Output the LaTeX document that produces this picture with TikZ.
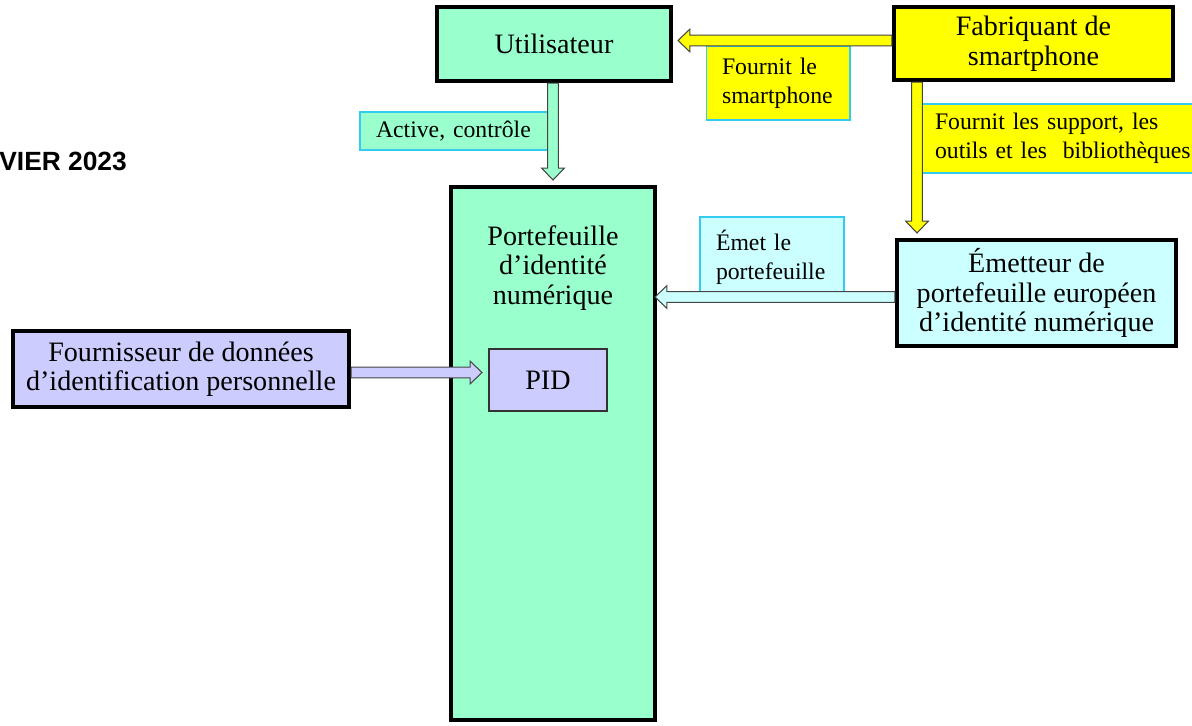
\documentclass[tikz,border=0pt]{standalone}
\usepackage{fontspec}
\setmainfont{Liberation Serif}
\newfontfamily\headfont{Liberation Sans}
\usetikzlibrary{calc}

\definecolor{mint}{HTML}{99FFCC}
\definecolor{lavender}{HTML}{CCCCFF}
\definecolor{paleaqua}{HTML}{CCFFFF}
\definecolor{sunyellow}{HTML}{FFFF00}
\definecolor{tagedge}{HTML}{33CCEE}
\definecolor{arrowedge}{HTML}{444444}

\tikzset{
  actor/.style={draw=black, line width=2.4pt, align=center, inner sep=0pt,
    font=\fontsize{16}{16.8}\selectfont},
  tag/.style={draw=tagedge, line width=0.6pt, align=left, inner sep=0pt,
    font=\fontsize{13.5}{16.4}\selectfont},
  arrowline/.style={draw=arrowedge, line width=0.6pt},
}

% block arrow: fill, tail, tip
\newcommand{\blockarrow}[3]{%
  \coordinate (ba-m) at ($(#3)!6.8pt!(#2)$);
  \draw[arrowline, fill=#1]
    ($(#2)!3.1pt!90:(#3)$) -- ($(ba-m)!3.1pt!90:(#3)$) -- ($(ba-m)!6.5pt!90:(#3)$)
    -- (#3) -- ($(ba-m)!6.5pt!-90:(#3)$) -- ($(ba-m)!3.1pt!-90:(#3)$)
    -- ($(#2)!3.1pt!-90:(#3)$) -- cycle;
}

\begin{document}
\begin{tikzpicture}[x=0.02cm, y=-0.02cm]
  \useasboundingbox (0,0) rectangle (1192,725);

  \node[anchor=west, inner sep=0pt, font=\headfont\bfseries\fontsize{15}{16}\selectfont]
    (date) at (-1,161) {VIER 2023};

  % actors
  \node[actor, fill=mint, minimum width=4.68cm, minimum height=1.48cm]
    (util) at (554,44) {Utilisateur};
  \node[actor, fill=sunyellow, minimum width=5.58cm, minimum height=1.46cm]
    (fab) at (1033.5,43.5) {Fabriquant de\\smartphone};
  \node[actor, fill=mint, minimum width=4.08cm, minimum height=10.66cm,
    label={[anchor=north, yshift=-19.5pt, align=center,
      font=\fontsize{16}{16.8}\selectfont]north:{Portefeuille\\d’identité\\numérique}}]
    (port) at (553,453.5) {};
  \node[draw=black!80, line width=0.8pt, fill=lavender, inner sep=0pt,
    minimum width=2.36cm, minimum height=1.24cm, font=\fontsize{16}{16.8}\selectfont]
    (pid) at (548,380) {PID};
  \node[actor, fill=lavender, minimum width=6.72cm, minimum height=1.52cm]
    (four) at (181,369) {Fournisseur de données\\d’identification personnelle};
  \node[actor, fill=paleaqua, minimum width=5.58cm, minimum height=2.12cm]
    (emet) at (1036.5,293) {Émetteur de\\portefeuille européen\\d’identité numérique};

  % tags
  \node[tag, fill=sunyellow, minimum width=2.88cm, minimum height=1.48cm, text width=2.24cm]
    (tagphone) at (778,83) {Fournit le\\smartphone};
  \node[tag, fill=sunyellow, minimum width=5.88cm, minimum height=1.38cm, text width=5.2cm]
    (tagsupport) at (1065,138.5) {Fournit les support, les\\outils et les~ bibliothèques};
  \node[tag, fill=paleaqua, minimum width=2.88cm, minimum height=1.6cm, text width=2.24cm]
    (tagemit) at (772,257) {Émet le\\portefeuille};
  \node[tag, fill=mint, minimum width=3.86cm, minimum height=0.76cm, text width=3.22cm]
    (tagactive) at (456.5,131) {Active, contrôle};

  % arrows
  \coordinate (utiltip) at (678,40.5);
  \coordinate (porttop) at (553,180);
  \coordinate (emettip) at (917,233);
  \coordinate (portside) at (655,297);
  \coordinate (pidtip) at (482,372.5);

  \blockarrow{sunyellow}{fab.west |- utiltip}{utiltip}
  \blockarrow{mint}{util.south -| porttop}{porttop}
  \blockarrow{sunyellow}{fab.south -| emettip}{emettip}
  \blockarrow{paleaqua}{emet.west |- portside}{portside}
  \blockarrow{lavender}{four.east |- pidtip}{pidtip}
\end{tikzpicture}
\end{document}
